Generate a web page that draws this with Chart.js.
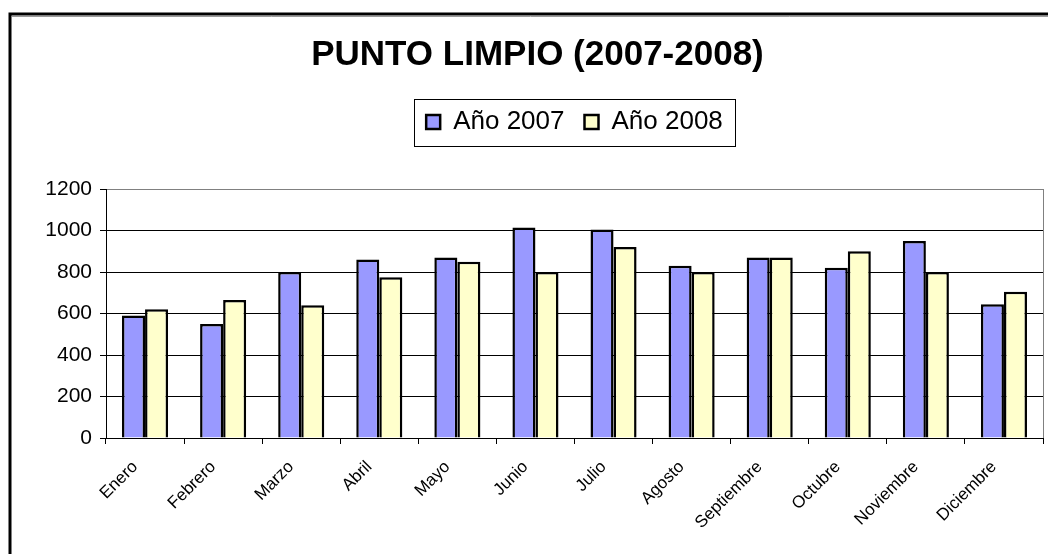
<!DOCTYPE html>
<html>
<head>
<meta charset="utf-8">
<title>Punto Limpio 2007-2008</title>
<script src="https://cdn.jsdelivr.net/npm/chart.js@4"></script>
<style>
  html, body { margin: 0; padding: 0; background: #fff; }
  #wrap { position: relative; width: 1048px; height: 554px; }
</style>
</head>
<body>
<div id="wrap"><canvas id="puntoChart"></canvas></div>
<script>
// Data
const MONTHS = ["Enero", "Febrero", "Marzo", "Abril", "Mayo", "Junio",
  "Julio", "Agosto", "Septiembre", "Octubre", "Noviembre", "Diciembre"];
const SERIES_NAMES = ["Año 2007", "Año 2008"];
const VALUES_2007 = [590, 550, 800, 860, 870, 1015, 1005, 830, 870, 820, 950, 645];
const VALUES_2008 = [620, 665, 640, 775, 850, 800, 920, 800, 870, 900, 800, 705];
const Y_TICKS = [0, 200, 400, 600, 800, 1000, 1200];

const FONT = "'Liberation Sans', Arial, sans-serif";
const PLOT_GRAY = "#808080";

Chart.defaults.color = "#000";
Chart.defaults.font.family = FONT;

// Outer frame of the chart object (runs off the right/bottom of the picture)
const framePlugin = {
  id: "frame",
  beforeDraw(chart) {
    const ctx = chart.ctx;
    ctx.save();
    ctx.strokeStyle = "#000";
    ctx.lineWidth = 3;
    ctx.strokeRect(10, 14, 1100, 600);
    ctx.strokeStyle = "#9a9a9a";
    ctx.lineWidth = 1;
    ctx.beginPath();
    ctx.moveTo(12, 16.5);
    ctx.lineTo(1100, 16.5);
    ctx.stroke();
    ctx.restore();
  }
};

// Extra gap under the legend
const legendSpacer = {
  id: "legendSpacer",
  beforeInit(chart) {
    const fit = chart.legend.fit;
    chart.legend.fit = function () {
      fit.call(this);
      this.height += 44;
    };
  }
};

// Title is centred on the whole chart object, which is wider than the picture
const titleShift = {
  id: "titleShift",
  afterLayout(chart) {
    chart.titleBlock.left += 16;
    chart.titleBlock.right += 16;
  }
};

// Box around the legend + right edge of the plot area
const boxes = {
  id: "boxes",
  afterDraw(chart) {
    const ctx = chart.ctx;
    const hb = chart.legend.legendHitBoxes;
    ctx.save();
    if (hb && hb.length) {
      const left = Math.min(...hb.map(b => b.left)) - 12;
      const right = Math.max(...hb.map(b => b.left + b.width)) + 12;
      const mid = hb[0].top + hb[0].height / 2;
      ctx.strokeStyle = "#000";
      ctx.lineWidth = 1;
      ctx.strokeRect(Math.round(left) + 0.5, Math.round(mid - 23.5) + 0.5, Math.round(right - left), 47);
    }
    const a = chart.chartArea;
    ctx.strokeStyle = PLOT_GRAY;
    ctx.lineWidth = 1;
    ctx.beginPath();
    ctx.moveTo(Math.round(a.right) + 0.5, a.top);
    ctx.lineTo(Math.round(a.right) + 0.5, a.bottom);
    ctx.stroke();
    ctx.restore();
  }
};

new Chart(document.getElementById("puntoChart"), {
  type: "bar",
  data: {
    labels: MONTHS,
    datasets: [
      {
        label: SERIES_NAMES[0],
        data: VALUES_2007,
        backgroundColor: "#9999FF",
        borderColor: "#000",
        borderWidth: 2.5
      },
      {
        label: SERIES_NAMES[1],
        data: VALUES_2008,
        backgroundColor: "#FFFFCC",
        borderColor: "#000",
        borderWidth: 2.5
      }
    ]
  },
  options: {
    responsive: true,
    maintainAspectRatio: false,
    animation: false,
    layout: { padding: { left: 0, right: 5, top: 0, bottom: 0 } },
    datasets: {
      bar: { categoryPercentage: 0.59, barPercentage: 1 }
    },
    plugins: {
      title: {
        display: true,
        text: "PUNTO LIMPIO (2007-2008)",
        font: { size: 35, weight: "bold", family: FONT },
        color: "#000",
        padding: { top: 34, bottom: 13 }
      },
      legend: {
        display: true,
        position: "top",
        fullSize: false,
        labels: {
          font: { size: 26, family: FONT },
          boxWidth: 14,
          boxHeight: 14,
          padding: 20,
          color: "#000"
        }
      },
      tooltip: { enabled: false }
    },
    scales: {
      x: {
        afterFit(scale) { scale.height = 116; },
        grid: {
          offset: true,
          drawOnChartArea: false,
          drawTicks: true,
          tickLength: 6,
          color: "#000"
        },
        border: { display: true, color: "#000", width: 1 },
        ticks: {
          autoSkip: false,
          minRotation: 45,
          maxRotation: 45,
          labelOffset: -10,
          padding: 13,
          font: { size: 17, family: FONT }
        }
      },
      y: {
        min: Y_TICKS[0],
        max: Y_TICKS[Y_TICKS.length - 1],
        afterFit(scale) { scale.width = 106; },
        afterBuildTicks(scale) {
          scale.ticks = Y_TICKS.map(v => ({ value: v }));
        },
        grid: {
          color: c => (c.tick && c.tick.value === 1200 ? PLOT_GRAY : "#000"),
          tickColor: "#000",
          tickLength: 6,
          lineWidth: 1
        },
        border: { display: true, color: "#000", width: 1 },
        ticks: {
          padding: 8,
          callback: v => String(v),
          font: { size: 21, family: FONT }
        }
      }
    }
  },
  plugins: [framePlugin, legendSpacer, titleShift, boxes]
});
</script>
</body>
</html>
